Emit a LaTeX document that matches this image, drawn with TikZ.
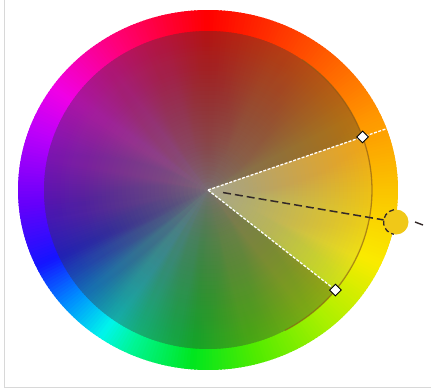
\documentclass[tikz,border=0pt]{standalone}
\usetikzlibrary{shapes.geometric,calc}
\definecolor{s0}{RGB}{255,0,0}
\definecolor{s1}{RGB}{255,80,0}
\definecolor{s2}{RGB}{255,150,0}
\definecolor{s3}{RGB}{250,195,0}
\definecolor{s4}{RGB}{250,235,0}
\definecolor{s5}{RGB}{170,240,0}
\definecolor{s6}{RGB}{80,235,0}
\definecolor{s7}{RGB}{0,230,30}
\definecolor{s8}{RGB}{0,245,150}
\definecolor{s9}{RGB}{0,245,235}
\definecolor{s10}{RGB}{0,140,255}
\definecolor{s11}{RGB}{20,20,255}
\definecolor{s12}{RGB}{100,0,250}
\definecolor{s13}{RGB}{190,0,250}
\definecolor{s14}{RGB}{240,0,230}
\definecolor{s15}{RGB}{255,0,120}
\definecolor{cgray}{RGB}{128,128,128}
\definecolor{ccen}{RGB}{122,112,116}
\definecolor{wgray}{RGB}{170,165,150}
\definecolor{wcen}{RGB}{168,164,148}
\definecolor{framegray}{RGB}{216,216,216}
\definecolor{handlefill}{RGB}{240,200,24}
\definecolor{dashdark}{RGB}{50,40,40}
\definecolor{rimline}{RGB}{140,90,20}
\def\segs{90/55/s0/s1, 55/25/s1/s2, 25/0/s2/s3, 0/-25/s3/s4, -25/-50/s4/s5, -50/-75/s5/s6, -75/-95/s6/s7, -95/-115/s7/s8, -115/-125/s8/s9, -125/-140/s9/s10, -140/-155/s10/s11, -155/-175/s11/s12, -175/-200/s12/s13, -200/-215/s13/s14, -215/-240/s14/s15, -240/-270/s15/s0}
\def\wsegs{55/25/s1/s2, 25/0/s2/s3, 0/-25/s3/s4, -25/-50/s4/s5}
\tikzset{
  wedgeline/.style={white, line width=1.3pt, dash pattern=on 3pt off 1.5pt},
  hueline/.style={dashdark, line width=1.5pt, dash pattern=on 8pt off 4pt},
  handlebox/.style={diamond, draw=black, fill=white, line width=0.9pt, inner sep=0pt, minimum size=12pt},
  huehandle/.style={circle, fill=handlefill, inner sep=0pt, minimum size=25pt}
}
\begin{document}
\begin{tikzpicture}[x=1pt,y=-1pt]
\useasboundingbox (0,0) rectangle (431,389);
\fill[white] (0,0) rectangle (431,389);
\draw[framegray, line width=1.2pt] (4.5,0) -- (4.5,387.5) -- (431,387.5);
% outer hue ring
\foreach \a/\b/\ca/\cb in \segs {
  \pgfmathtruncatemacro\n{max(1,round(abs(\b-\a)))}
  \foreach \j in {1,...,\n} {
    \pgfmathsetmacro\ta{\a+(\b-\a)*(\j-1)/\n+0.3}
    \pgfmathsetmacro\tb{\a+(\b-\a)*\j/\n-0.3}
    \pgfmathtruncatemacro\p{100*(\j-0.5)/\n}
    \colorlet{hc}{\cb!\p!\ca}
    \fill[hc] (208,190) -- ({208+190*cos(\ta)},{190-180*sin(\ta)}) -- ({208+190*cos(\tb)},{190-180*sin(\tb)}) -- cycle;
  }
}
% inner disk: darker hue slices
\foreach \a/\b/\ca/\cb in \segs {
  \pgfmathtruncatemacro\n{max(1,round(abs(\b-\a)))}
  \foreach \j in {1,...,\n} {
    \pgfmathsetmacro\ta{\a+(\b-\a)*(\j-1)/\n+0.3}
    \pgfmathsetmacro\tb{\a+(\b-\a)*\j/\n-0.3}
    \pgfmathtruncatemacro\p{100*(\j-0.5)/\n}
    \colorlet{hc}{\cb!\p!\ca}
    \colorlet{he}{hc!75!black!85!cgray}
    \fill[he] (208,190) -- ({208+164*cos(\ta)},{190-159*sin(\ta)}) -- ({208+164*cos(\tb)},{190-159*sin(\tb)}) -- cycle;
  }
}
% inner disk: grey towards the centre
\foreach \k in {1,...,40} {
  \pgfmathsetmacro\al{1-((40-\k+0.5)/(40-\k+1.5))^0.8}
  \pgfmathsetmacro\rx{164*(41-\k)/40}
  \pgfmathsetmacro\ry{159*(41-\k)/40}
  \fill[ccen, opacity=\al] (208,190) ellipse [x radius=\rx pt, y radius=\ry pt];
}
% highlighted wedge
\coordinate (O) at (208,190);
\coordinate (U) at ({208+164*cos(19.5)},{190-159*sin(19.5)});
\coordinate (L) at ({208+164*cos(-39)},{190-159*sin(-39)});
\coordinate (E) at ($(O)!1.17!(U)$);
\begin{scope}
\clip (O) -- plot[domain=19.5:-39, samples=40] ({208+164*cos(\x)},{190-159*sin(\x)}) -- cycle;
\foreach \a/\b/\ca/\cb in \wsegs {
  \pgfmathtruncatemacro\n{max(1,round(abs(\b-\a)))}
  \foreach \j in {1,...,\n} {
    \pgfmathsetmacro\ta{\a+(\b-\a)*(\j-1)/\n+0.3}
    \pgfmathsetmacro\tb{\a+(\b-\a)*\j/\n-0.3}
    \pgfmathtruncatemacro\p{100*(\j-0.5)/\n}
    \colorlet{hc}{\cb!\p!\ca}
    \colorlet{he}{hc!85!wgray}
    \fill[he] (208,190) -- ({208+166*cos(\ta)},{190-161*sin(\ta)}) -- ({208+166*cos(\tb)},{190-161*sin(\tb)}) -- cycle;
  }
}
\foreach \k in {1,...,40} {
  \pgfmathsetmacro\al{1-((40-\k+0.5)/(40-\k+1.5))}
  \pgfmathsetmacro\rx{164*(41-\k)/40}
  \pgfmathsetmacro\ry{159*(41-\k)/40}
  \fill[wcen, opacity=\al] (208,190) ellipse [x radius=\rx pt, y radius=\ry pt];
}
\end{scope}
% rim line of the inner disk
\draw[rimline, opacity=0.6, line width=1.3pt] plot[domain=55:-62, samples=60] ({208+164*cos(\x)},{190-159*sin(\x)});
% wedge edges
\draw[wedgeline] (O) -- (U) -- (E);
\draw[wedgeline] (O) -- (L);
% hue handle and its line
\node[huehandle] (H) at (396,222) {};
\draw[hueline] ($(O)!0.08!(H)$) -- (H);
\draw[dashdark, line width=1.3pt, dash pattern=on 5pt off 3pt] ($(H)+(100:12.5pt)$) arc[start angle=100, end angle=260, radius=12.5pt];
\coordinate (T0) at (415,222);
\coordinate (T1) at (423,225);
\draw[dashdark, line width=1.4pt] (T0) -- (T1);
% range handles
\node[handlebox] (dU) at (U) {};
\node[handlebox] (dL) at (L) {};
\end{tikzpicture}
\end{document}
